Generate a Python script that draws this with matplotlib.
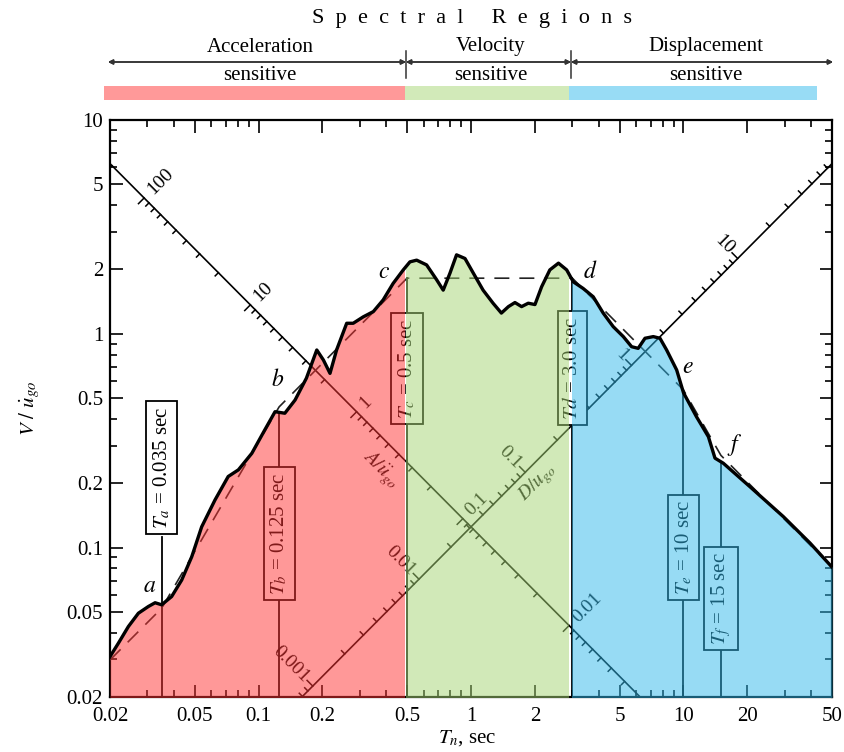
import numpy as np
import matplotlib
matplotlib.use('Agg')
import matplotlib.pyplot as plt
from matplotlib.patches import Rectangle
from matplotlib.lines import Line2D
from matplotlib.ticker import FixedLocator, NullFormatter

plt.rcParams['font.family'] = ['Liberation Serif', 'DejaVu Serif']
plt.rcParams['mathtext.fontset'] = 'stix'

# ---------------- data ----------------
T_curve = [0.020, 0.0219, 0.0244, 0.0272, 0.0303, 0.0326, 0.0350, 0.0390, 0.0435, 0.0485,
           0.0540, 0.0624, 0.0720, 0.0804, 0.0930, 0.107, 0.1196, 0.133, 0.1486, 0.168,
           0.188, 0.202, 0.217, 0.233, 0.260, 0.279, 0.311, 0.347, 0.386, 0.430,
           0.480, 0.516, 0.555, 0.618, 0.689, 0.740, 0.796, 0.855, 0.937, 1.026,
           1.14, 1.27, 1.39, 1.50, 1.61, 1.73, 1.86, 2.00, 2.15, 2.35,
           2.58, 2.82, 3.03, 3.37, 3.76, 4.19, 4.67, 5.21, 5.70, 6.12,
           6.59, 7.21, 7.75, 8.33, 9.29, 10.0, 11.5, 13.1, 14.07, 15.4,
           20.5, 29.5, 39.4, 50.0]
V_curve = [0.0309, 0.0357, 0.0427, 0.0493, 0.0530, 0.0552, 0.0540, 0.0590, 0.0705, 0.0906,
           0.125, 0.167, 0.215, 0.231, 0.276, 0.355, 0.432, 0.425, 0.490, 0.620,
           0.840, 0.754, 0.653, 0.840, 1.12, 1.12, 1.20, 1.27, 1.44, 1.72,
           1.99, 2.17, 2.21, 2.10, 1.79, 1.60, 1.92, 2.34, 2.25, 1.92,
           1.60, 1.39, 1.25, 1.34, 1.40, 1.34, 1.39, 1.37, 1.66, 1.99,
           2.14, 1.99, 1.75, 1.63, 1.49, 1.25, 1.08, 0.97, 0.87, 0.855,
           0.953, 0.97, 0.953, 0.84, 0.677, 0.53, 0.41, 0.33, 0.262, 0.248,
           0.193, 0.1396, 0.105, 0.081]

T_ideal = [0.02, 0.035, 0.125, 0.5, 3.0, 10.0, 15.0, 50.0]
V_ideal = [0.0298, 0.052, 0.455, 1.82, 1.82, 0.546, 0.27, 0.081]

period_letters = ['a', 'b', 'c', 'd', 'e', 'f']
period_values = [0.035, 0.125, 0.5, 3.0, 10.0, 15.0]
period_texts = [r'$T_a$ = 0.035 sec', r'$T_b$ = 0.125 sec', r'$T_c$ = 0.5 sec',
                r'$Td$ = 3.0 sec', r'$T_e$ = 10 sec', r'$T_f$ = 15 sec']
line_tops = [0.112, 0.43, 1.82, 1.82, 0.53, 0.25]
box_centers = [0.237, 0.116, 0.689, 0.689, 0.100, 0.058]
letter_T = [0.0306, 0.1236, 0.389, 3.63, 10.5, 17.5]
letter_V = [0.0655, 0.608, 1.94, 1.94, 0.692, 0.302]

region_names = ['Acceleration', 'Velocity', 'Displacement']
region_fill_ranges = [(0.02, 0.484), (0.496, 2.87), (2.975, 50.0)]
region_bar_colors = ['#ff9999', '#d2eab9', '#98dcf5']
region_fill_colors = ['#ff3333', '#a5d573', '#31b9eb']

x_ticks = [0.02, 0.05, 0.1, 0.2, 0.5, 1, 2, 5, 10, 20, 50]
x_ticklabels = ['0.02', '0.05', '0.1', '0.2', '0.5', '1', '2', '5', '10', '20', '50']
y_ticks = [0.02, 0.05, 0.1, 0.2, 0.5, 1, 2, 5, 10]
y_ticklabels = ['0.02', '0.05', '0.1', '0.2', '0.5', '1', '2', '5', '10']

# normalising ratios (El Centro ground motion)
vel_over_acc = 0.1067   # u_go_dot / u_go_ddot  (s)
vel_over_disp = 1.552   # u_go_dot / u_go      (1/s)
axis_const = 0.125      # the two diagonal scales cross at T = 1 s, V = 0.125
A_labels = [100, 10, 1, 0.1, 0.01]
D_labels = [0.001, 0.01, 0.1, 1, 10]

# ---------------- figure ----------------
W, H = 844, 752
fig = plt.figure(figsize=(W / 100, H / 100), dpi=100)
ax = fig.add_axes([110 / W, 1 - 697 / H, 722 / W, 577 / H])
ax.set_xscale('log')
ax.set_yscale('log')
ax.set_xlim(0.02, 50)
ax.set_ylim(0.02, 10)

ax.xaxis.set_major_locator(FixedLocator(x_ticks))
ax.set_xticklabels(x_ticklabels)
ax.yaxis.set_major_locator(FixedLocator(y_ticks))
ax.set_yticklabels(y_ticklabels)
minor_vals = [m * 10.0 ** k for k in range(-2, 2) for m in range(1, 10)]
ax.xaxis.set_minor_locator(FixedLocator([v for v in minor_vals if v not in x_ticks]))
ax.yaxis.set_minor_locator(FixedLocator([v for v in minor_vals if v not in y_ticks]))
ax.xaxis.set_minor_formatter(NullFormatter())
ax.yaxis.set_minor_formatter(NullFormatter())
ax.tick_params(which='both', direction='in', top=True, right=True, labelsize=15, width=1.2)
ax.tick_params(which='major', length=9)
ax.tick_params(which='minor', length=5)
ax.tick_params(axis='x', which='major', pad=7)
ax.tick_params(axis='y', which='major', pad=5)
for s in ax.spines.values():
    s.set_linewidth(1.6)

# ---- diagonal A and D scales ----
kA = 2 * np.pi * vel_over_acc
kD = vel_over_disp / (2 * np.pi)
Tl = np.array([0.015, 60.0])
ax.plot(Tl, axis_const / Tl, color='black', lw=1.2, zorder=2)
ax.plot(Tl, axis_const * Tl, color='black', lw=1.2, zorder=2)

px_dec = 213.0
def dec(px):
    return px / px_dec / np.sqrt(2)

def in_axes(t, v):
    return 0.0201 <= t <= 49.9 and 0.0201 <= v <= 9.95

for k in range(-4, 3):
    for m in range(1, 10):
        a = m * 10.0 ** k
        t = np.sqrt(kA * axis_const / a)
        v = axis_const / t
        if in_axes(t, v):
            L = dec(8 if m == 1 else 4.5)
            ax.plot([t, t * 10 ** (-L)], [v, v * 10 ** (-L)], color='black', lw=1.1, zorder=2)
        d = m * 10.0 ** k
        t = np.sqrt(d / (kD * axis_const))
        v = axis_const * t
        if in_axes(t, v):
            L = dec(8 if m == 1 else 4.5)
            ax.plot([t, t * 10 ** (-L)], [v, v * 10 ** (L)], color='black', lw=1.1, zorder=2)

for a in A_labels:
    t = np.sqrt(kA * axis_const / a)
    v = axis_const / t
    g = dec(8)
    ax.text(t * 10 ** g, v * 10 ** g, f'{a:g}', rotation=45, rotation_mode='anchor',
            ha='left', va='center', fontsize=14, zorder=2)
for d in D_labels:
    t = np.sqrt(d / (kD * axis_const))
    v = axis_const * t
    g = dec(9)
    ax.text(t * 10 ** (-g), v * 10 ** g, f'{d:g}', rotation=-45, rotation_mode='anchor',
            ha='right', va='center', fontsize=14, zorder=2)

ax.text(0.373, 0.231, r'$A/\ddot{u}_{go}$', rotation=-45, ha='center', va='center',
        fontsize=14, zorder=2)
ax.text(2.07, 0.20, r'$D/u_{go}$', rotation=45, ha='center', va='center',
        fontsize=14, zorder=2)

# ---- idealized spectrum (dashed) ----
ax.plot(T_ideal, V_ideal, color='#222222', lw=1.2, dashes=(9, 6), zorder=3)

# ---- period markers ----
for T, top, yc, txt in zip(period_values, line_tops, box_centers, period_texts):
    ax.plot([T, T], [0.02, top], color='black', lw=1.3, zorder=3)
    ax.text(T, yc, txt, rotation=90, ha='center', va='center', fontsize=15, zorder=4,
            bbox=dict(boxstyle='square,pad=0.25', facecolor='white', edgecolor='black', lw=1.3))
for lt, lv, name in zip(letter_T, letter_V, period_letters):
    ax.text(lt, lv, f'${name}$', ha='center', va='center', fontsize=17, zorder=4)

# ---- colored fills (semi-transparent overlay) ----
for (t0, t1), col in zip(region_fill_ranges, region_fill_colors):
    poly = ax.fill_between(T_curve, V_curve, 0.005, color=col, alpha=0.5, lw=0, zorder=5)
    rect = Rectangle((t0, 0.02), t1 - t0, 10 - 0.02, transform=ax.transData)
    poly.set_clip_path(rect)

# ---- response curve ----
ax.plot(T_curve, V_curve, color='black', lw=2.4, zorder=6, solid_joinstyle='round')

# ---- axis labels ----
fig.text(30 / W, 1 - 408 / H, r'$V\ /\ \dot{u}_{go}$', rotation=90, ha='center', va='center',
         fontsize=15)
fig.text(467 / W, 1 - 738 / H, r'$T_n$, sec', ha='center', va='center', fontsize=15)

# ---------------- header: spectral regions ----------------
def fx(x):
    return x / W
def fy(y):
    return 1 - y / H

fig.text(fx(472), fy(19), 'S  p  e  c  t  r  a  l     R  e  g  i  o  n  s', ha='center', va='center',
         fontsize=16)
bounds_px = [108, 406, 571, 833]
centers_px = [260, 491, 706]
for i, name in enumerate(region_names):
    fig.text(fx(centers_px[i]), fy(47), name, ha='center', va='center', fontsize=15)
    fig.text(fx(centers_px[i]), fy(76), 'sensitive', ha='center', va='center', fontsize=15)
    fig.add_artist(plt.annotate('', xy=(fx(bounds_px[i + 1]), fy(62)),
                                xytext=(fx(bounds_px[i]), fy(62)),
                                xycoords='figure fraction', textcoords='figure fraction',
                                arrowprops=dict(arrowstyle='<|-|>', mutation_scale=7, lw=1.1,
                                                color='#333333', shrinkA=0, shrinkB=0)))
for xb in bounds_px[1:3]:
    fig.add_artist(Line2D([fx(xb), fx(xb)], [fy(51), fy(78)], transform=fig.transFigure,
                          color='#333333', lw=1.1))
bar_px = [104, 405, 569, 817]
for i, col in enumerate(region_bar_colors):
    fig.add_artist(Rectangle((fx(bar_px[i]), fy(100)), (bar_px[i + 1] - bar_px[i]) / W, 14 / H,
                             transform=fig.transFigure, facecolor=col, edgecolor='none'))

fig.savefig('out.png', dpi=100)
